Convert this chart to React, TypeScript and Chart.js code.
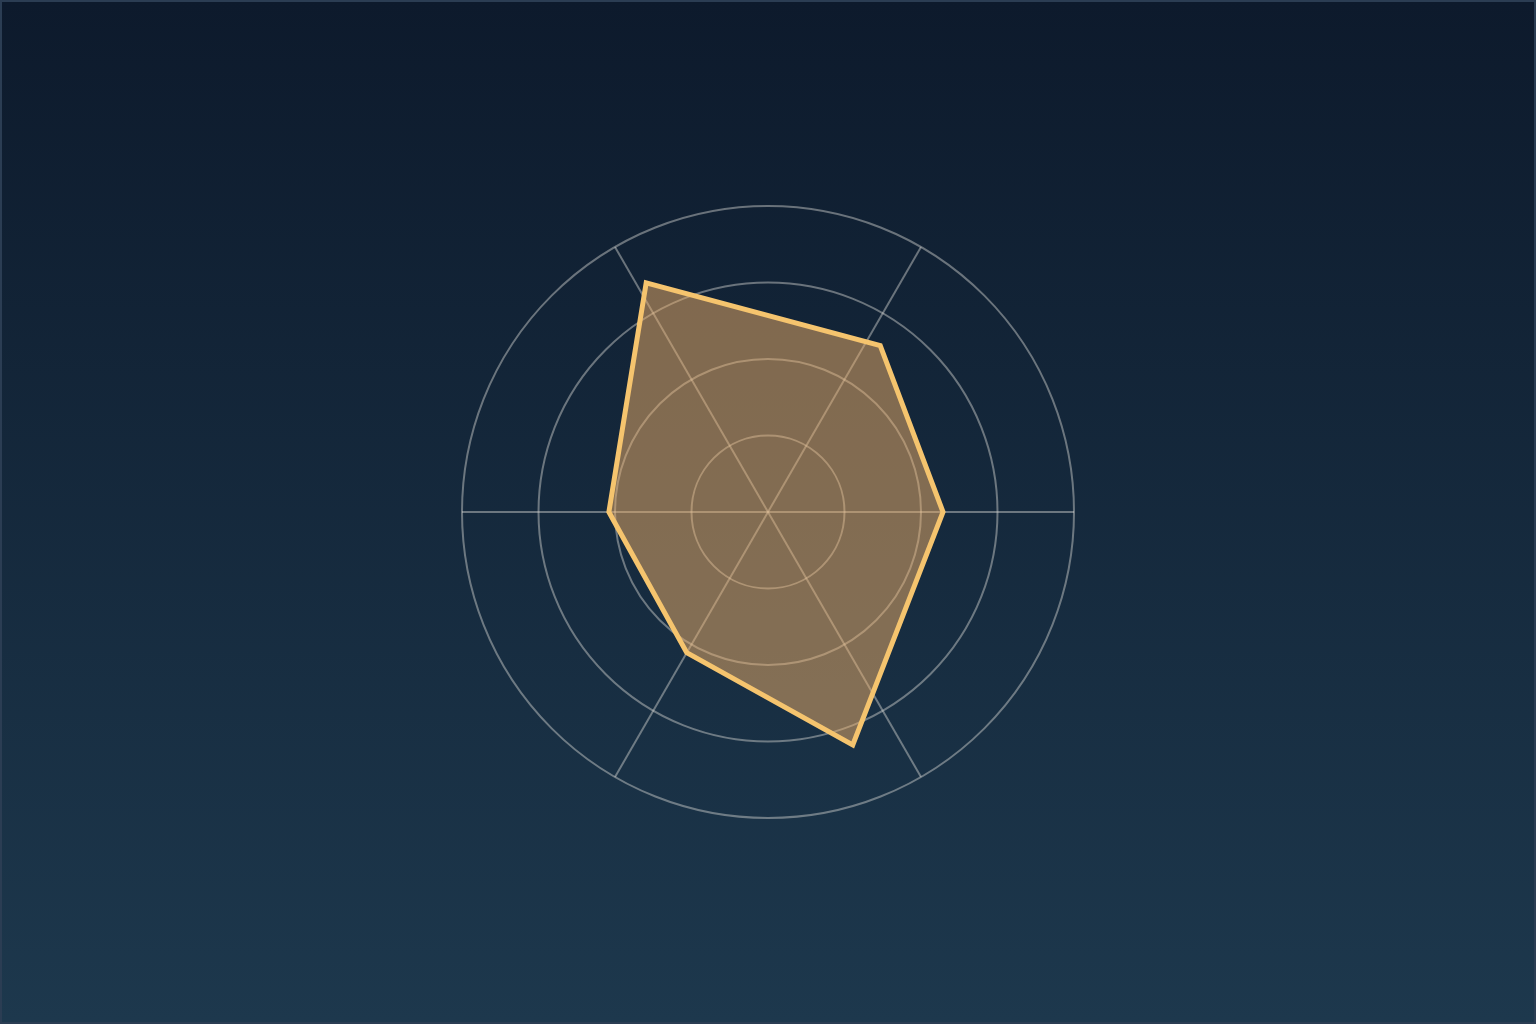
import { useEffect, useRef } from 'react';
import { Chart, registerables } from 'chart.js';

Chart.register(...registerables);

// radar drawn on a 1-degree label ring so the vertices can sit at their own angles
const DEGREES = 360;
const spokeAngles = [30, 90, 150, 210, 270, 330];
const pointAngles = [34, 90, 160, 210, 270, 332];
const pointValues = [65.6, 57.2, 81, 53.1, 52, 84.8];
const tickValues = [25, 50, 75, 100];

const labels = Array.from({ length: DEGREES }, (_, i) => `${i}°`);
const seriesData: (number | null)[] = labels.map(() => null);
pointAngles.forEach((a, i) => {
  seriesData[a % DEGREES] = pointValues[i];
});

const GRID = 'rgba(215, 215, 210, 0.45)';

export default function App() {
  const canvasRef = useRef<HTMLCanvasElement>(null);
  const chartRef = useRef<Chart | null>(null);

  useEffect(() => {
    document.body.style.margin = '0';
    if (!canvasRef.current) return;

    if (chartRef.current) {
      chartRef.current.destroy();
    }

    chartRef.current = new Chart(canvasRef.current, {
      type: 'radar',
      data: {
        labels,
        datasets: [
          {
            label: 'Series',
            data: seriesData,
            spanGaps: true,
            borderColor: '#f5c46e',
            backgroundColor: 'rgba(240, 176, 104, 0.5)',
            borderWidth: 5,
            borderJoinStyle: 'miter',
            fill: true,
            pointRadius: 0,
            pointHoverRadius: 0,
          },
        ],
      },
      options: {
        responsive: true,
        maintainAspectRatio: false,
        animation: false,
        layout: { padding: 204 },
        plugins: {
          legend: { display: false },
          tooltip: { enabled: false },
        },
        scales: {
          r: {
            min: 0,
            max: tickValues[tickValues.length - 1],
            startAngle: 0,
            ticks: { display: false, stepSize: tickValues[0] },
            pointLabels: { display: false },
            grid: { circular: true, color: GRID, lineWidth: 2 },
            angleLines: {
              display: true,
              color: GRID,
              lineWidth: (ctx: any) => (spokeAngles.includes(ctx.index) ? 2 : 0),
            },
          },
        },
      },
    });

    return () => {
      chartRef.current?.destroy();
      chartRef.current = null;
    };
  }, []);

  return (
    <div
      style={{
        width: 1536,
        height: 1024,
        boxSizing: 'border-box',
        border: '2px solid #2b3d53',
        background: 'linear-gradient(180deg, #0d1a2c 0%, #1d384d 100%)',
      }}
    >
      <div style={{ position: 'relative', width: '100%', height: '100%' }}>
        <canvas ref={canvasRef} />
      </div>
    </div>
  );
}
